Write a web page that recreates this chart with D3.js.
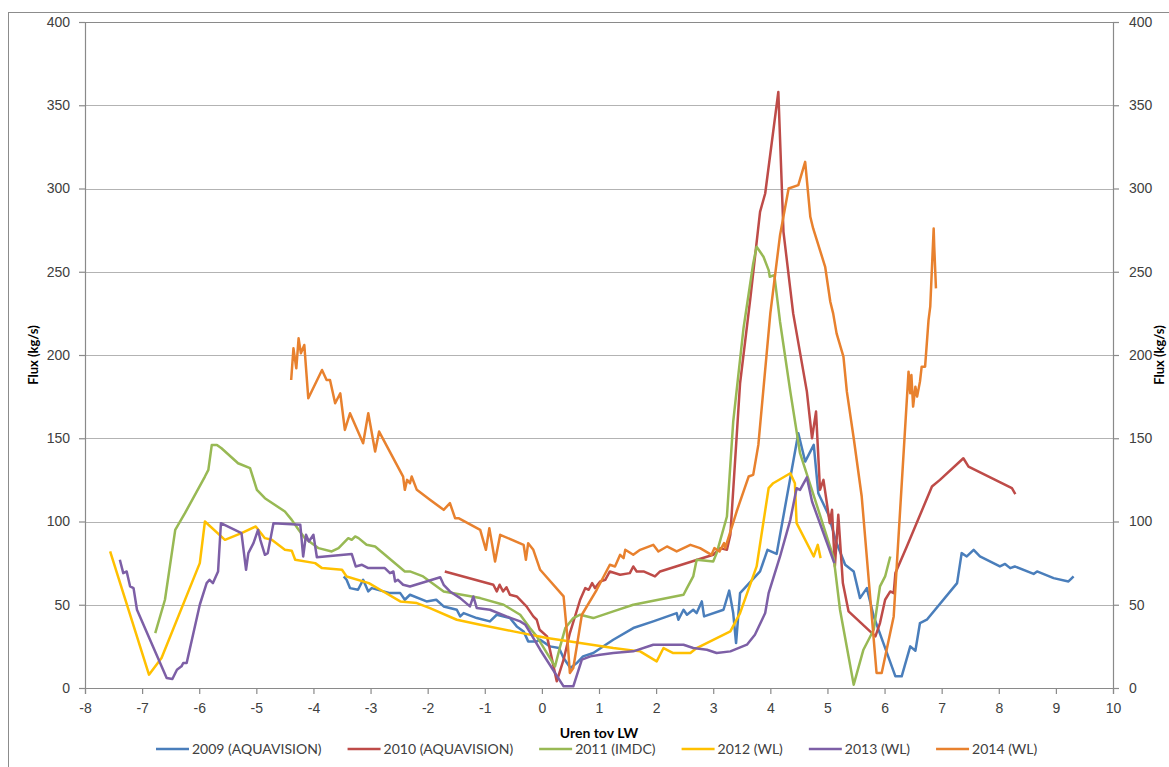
<!DOCTYPE html>
<html>
<head>
<meta charset="utf-8">
<script src="https://cdn.jsdelivr.net/npm/d3@7"></script>
<style>
  html, body { margin: 0; padding: 0; background: #fff; overflow: hidden; }
  svg { display: block; font-family: Lato, "Open Sans", sans-serif; }
</style>
</head>
<body>
<div id="chart"></div>
<script>
// Reeksen (jaar + bron) en kleuren
const seriesNames = ["2009 (AQUAVISION)", "2010 (AQUAVISION)", "2011 (IMDC)", "2012 (WL)", "2013 (WL)", "2014 (WL)"];
const seriesColors = ["#4a7ebb", "#be4b48", "#98b954", "#ffc000", "#7d5fa6", "#e8812e"];

const xTicks = d3.range(-8, 11, 1);
const yTicks = d3.range(0, 401, 50);

// [uren tov LW, flux kg/s]
const s2009 = [[-3.47,67],[-3.42,65],[-3.36,60],[-3.22,59],[-3.13,65],[-3.04,58],[-2.98,60],[-2.66,57],[-2.48,57],[-2.40,53],[-2.31,56],[-2.02,52],[-1.85,53],[-1.72,49],[-1.49,47],[-1.43,43],[-1.37,45],[-1.14,42],[-0.91,40],[-0.79,44],[-0.56,42],[-0.44,37],[-0.32,34],[-0.24,28],[-0.09,28],[-0.03,29],[0.14,25],[0.30,24],[0.38,18],[0.50,12],[0.61,15],[0.72,19],[0.90,21],[1.25,29],[1.60,36],[1.95,40],[2.36,45],[2.39,41],[2.48,47],[2.54,44],[2.65,47],[2.71,45],[2.80,52],[2.84,43],[3.18,47],[3.28,58.5],[3.35,45],[3.40,27],[3.47,57],[3.82,70],[3.95,83],[4.11,80.5],[4.49,153],[4.61,136],[4.76,146],[4.84,117],[5.02,104],[5.15,88],[5.31,74],[5.46,70],[5.57,54],[5.69,60],[5.81,43],[6.19,7],[6.30,7],[6.45,25],[6.54,22.4],[6.62,39],[6.74,41],[7.27,63],[7.35,81],[7.44,79],[7.56,83],[7.67,79],[8.02,73],[8.11,74.5],[8.20,72],[8.28,73],[8.61,68.5],[8.67,70],[8.96,66],[9.22,64],[9.28,66],[9.31,67]];

const s2010 = [[-1.70,70],[-0.85,62],[-0.79,58],[-0.74,62],[-0.68,58],[-0.62,60.5],[-0.56,56],[-0.44,55],[-0.27,49],[-0.15,43],[-0.09,41],[-0.04,35],[0.09,31],[0.26,4],[0.38,17],[0.49,33],[0.67,53],[0.76,60],[0.82,59],[0.88,63],[0.93,60],[1.02,64],[1.11,65],[1.19,70],[1.37,68],[1.54,69],[1.60,73],[1.66,70],[1.78,70],[1.98,67],[2.07,70],[3.00,80],[3.12,84],[3.24,83],[3.30,92],[3.47,183],[3.65,234],[3.82,286],[3.91,297],[4.14,358],[4.23,274],[4.40,225],[4.64,178],[4.73,150],[4.80,166],[4.87,119],[4.93,125],[4.99,111],[5.04,99],[5.08,107],[5.13,73],[5.19,104],[5.27,63],[5.37,46],[5.84,31],[5.92,39],[6.01,53],[6.10,58],[6.16,57],[6.19,69],[6.39,85],[6.83,121],[6.97,125],[7.38,138],[7.47,133],[8.23,120],[8.29,116.5]];

const s2011 = [[-6.77,33],[-6.60,53],[-6.42,95],[-6.25,105],[-5.90,127],[-5.84,131],[-5.78,146],[-5.69,146],[-5.61,144],[-5.32,135],[-5.11,132],[-4.99,119],[-4.85,114],[-4.50,106],[-4.38,101],[-4.26,95],[-4.15,90],[-3.91,84],[-3.68,82],[-3.56,84],[-3.39,90],[-3.33,89],[-3.27,91],[-3.21,90],[-3.07,86],[-2.92,85],[-2.40,70],[-2.31,70],[-2.08,67],[-1.72,58],[-1.08,54],[-0.67,50],[-0.38,44],[-0.21,36],[-0.09,31],[0.23,13],[0.32,25],[0.41,36],[0.55,42],[0.67,44],[0.90,42],[1.25,46],[1.60,50],[2.48,56],[2.54,60],[2.65,67],[2.71,77],[3.00,76],[3.06,81],[3.24,103],[3.35,160],[3.53,216],[3.70,255],[3.76,265],[3.88,259],[3.97,251],[3.99,247],[4.07,248],[4.17,220],[4.35,178],[4.52,141],[4.70,122],[5.11,78],[5.22,47],[5.46,2],[5.63,23],[5.81,35],[5.92,61],[6.01,67],[6.10,79]];

const s2012 = [[-7.56,82],[-6.88,8],[-6.66,18],[-5.99,75],[-5.90,100],[-5.55,89],[-5.26,93],[-5.01,97],[-4.85,90],[-4.73,89],[-4.50,83],[-4.38,82.5],[-4.32,77],[-3.97,75],[-3.85,72],[-3.50,71],[-3.42,67],[-3.03,63],[-2.83,59],[-2.48,52],[-2.19,51],[-1.96,48],[-1.49,41],[-1.08,38],[-0.50,34],[0.09,30],[0.67,27],[1.25,24],[1.72,22],[2.01,16],[2.13,24],[2.30,21],[2.60,21],[2.71,24],[3.30,34],[3.47,45],[3.76,73],[3.97,120],[4.05,123],[4.35,129],[4.43,123],[4.46,99],[4.76,79],[4.83,86],[4.88,78]];

const s2013 = [[-7.39,77],[-7.33,69],[-7.27,70],[-7.21,61],[-7.15,60],[-7.09,47],[-6.57,6],[-6.47,5.4],[-6.39,11],[-6.31,13],[-6.28,15],[-6.22,15],[-5.99,50],[-5.87,63],[-5.82,65],[-5.76,63],[-5.67,70],[-5.62,99],[-5.26,93],[-5.18,71],[-5.14,81],[-5.05,87],[-4.97,95],[-4.93,89],[-4.85,80],[-4.80,81],[-4.70,99],[-4.23,98],[-4.18,79],[-4.13,92],[-4.08,88],[-4.00,92],[-3.94,78.5],[-3.33,80.5],[-3.26,73],[-3.15,74],[-3.04,72],[-2.75,72],[-2.66,69],[-2.60,70],[-2.57,64],[-2.52,65],[-2.43,62],[-2.31,61],[-1.78,66.5],[-1.72,62],[-1.61,58],[-1.43,54],[-1.26,49],[-1.20,55],[-1.14,48],[-0.91,47],[-0.62,43],[-0.38,40],[-0.29,38],[-0.20,33],[-0.03,23],[0.38,1],[0.55,1],[0.70,17],[0.85,19],[1.02,20],[1.25,21],[1.60,22],[1.95,26],[2.48,26],[2.65,24],[2.89,23],[3.06,21],[3.30,22],[3.59,26],[3.73,32],[3.91,45],[3.97,57],[4.17,79],[4.35,101],[4.46,120],[4.52,119],[4.64,126.5],[4.73,112],[5.12,75]];

const s2014 = [[-4.39,185],[-4.35,204],[-4.30,192],[-4.26,210],[-4.22,201],[-4.16,206],[-4.09,174],[-3.85,191],[-3.77,185],[-3.71,185],[-3.62,171],[-3.53,177],[-3.45,155],[-3.36,165],[-3.13,147],[-3.04,165],[-2.92,142],[-2.85,154],[-2.43,127],[-2.40,119],[-2.36,125],[-2.31,123],[-2.28,127],[-2.19,119],[-1.96,113],[-1.72,107],[-1.61,111],[-1.52,102],[-1.46,102],[-1.08,95],[-0.98,83],[-0.92,96],[-0.82,76],[-0.73,92],[-0.32,86],[-0.28,77],[-0.24,87],[-0.15,83],[-0.03,71],[0.38,55],[0.44,33],[0.49,9],[0.55,12],[0.70,44],[0.96,59],[1.19,74],[1.28,73],[1.37,80],[1.43,78],[1.46,83],[1.60,80],[1.72,83],[1.95,86],[2.04,82],[2.19,85],[2.36,82],[2.60,86],[2.77,84],[2.97,80],[3.02,84],[3.11,82],[3.19,87],[3.21,84],[3.41,106],[3.62,127],[3.70,128],[3.79,146],[4.00,225],[4.17,272],[4.32,300],[4.49,302],[4.61,316],[4.70,283],[4.75,276],[4.96,253],[5.05,232],[5.10,225],[5.16,213],[5.28,199],[5.34,178],[5.46,150],[5.60,115],[5.86,9],[5.95,9],[6.16,43],[6.42,190],[6.45,177],[6.47,188],[6.50,169],[6.54,181],[6.57,175],[6.62,184],[6.65,193],[6.71,193],[6.77,221],[6.80,229],[6.86,276],[6.87,265],[6.90,240]];

const seriesData = [s2009, s2010, s2011, s2012, s2013, s2014];

function drawChart() {
    const width = 1169, height = 767;
    const margin = { top: 22, right: 56, bottom: 79, left: 85 }; // plotvlak 85..1113 x 22..688

    const svg = d3.select("#chart").append("svg")
        .attr("width", width)
        .attr("height", height);

    // buitenkader van de grafiek
    svg.append("rect")
        .attr("x", 8.5).attr("y", 12.5)
        .attr("width", 1200).attr("height", 800)
        .attr("fill", "#fff")
        .attr("stroke", "#8c8c8c");

    const x = d3.scaleLinear().domain([-8, 10]).range([margin.left, width - margin.right]);
    const y = d3.scaleLinear().domain([0, 400]).range([height - margin.bottom, margin.top]);

    // horizontale rasterlijnen
    svg.append("g")
        .selectAll("line")
        .data(yTicks.filter(d => d > 0))
        .join("line")
        .attr("x1", x(-8)).attr("x2", x(10))
        .attr("y1", d => Math.round(y(d)) + 0.5)
        .attr("y2", d => Math.round(y(d)) + 0.5)
        .attr("stroke", d => d === 400 ? "#8a8a8a" : "#b3b3b3")
        .attr("stroke-width", 1.2);

    const axisColor = "#8a8a8a";
    const labelColor = "#404040";

    // linker y-as
    const yLeft = svg.append("g")
        .attr("transform", `translate(${x(-8)},0)`)
        .call(d3.axisLeft(y).tickValues(yTicks).tickSize(6).tickPadding(9));
    // rechter y-as
    const yRight = svg.append("g")
        .attr("transform", `translate(${x(10)},0)`)
        .call(d3.axisRight(y).tickValues(yTicks).tickSize(6).tickPadding(10));
    // x-as
    const xAxis = svg.append("g")
        .attr("transform", `translate(0,${y(0)})`)
        .call(d3.axisBottom(x).tickValues(xTicks).tickSize(6).tickPadding(9).tickFormat(d3.format("d")));

    [yLeft, yRight, xAxis].forEach(g => {
        g.select(".domain").attr("stroke", axisColor).attr("stroke-width", 1.2);
        g.selectAll(".tick line").attr("stroke", axisColor).attr("stroke-width", 1.2);
        g.selectAll(".tick text")
            .attr("fill", labelColor)
            .style("font-size", "14px");
    });
    xAxis.selectAll(".tick text").text(d => d < 0 ? "-" + Math.abs(d) : d);

    // lijnen
    const line = d3.line()
        .x(d => x(d[0]))
        .y(d => y(d[1]));

    svg.append("g")
        .attr("fill", "none")
        .attr("stroke-width", 2.5)
        .attr("stroke-linejoin", "round")
        .selectAll("path")
        .data(seriesData)
        .join("path")
        .attr("stroke", (d, i) => seriesColors[i])
        .attr("d", line);

    // astitels
    svg.append("text")
        .attr("transform", `translate(38,${y(200)}) rotate(-90)`)
        .attr("text-anchor", "middle")
        .attr("font-weight", "bold")
        .style("font-size", "13px")
        .attr("fill", "#000")
        .text("Flux (kg/s)");

    svg.append("text")
        .attr("transform", `translate(1164,${y(200)}) rotate(-90)`)
        .attr("text-anchor", "middle")
        .attr("font-weight", "bold")
        .style("font-size", "13px")
        .attr("fill", "#000")
        .text("Flux (kg/s)");

    svg.append("text")
        .attr("x", 599).attr("y", 738)
        .attr("text-anchor", "middle")
        .attr("font-weight", "bold")
        .style("font-size", "14px")
        .attr("fill", "#000")
        .text("Uren tov LW");

    // legenda
    const legend = svg.append("g").attr("transform", "translate(0,749)");
    let lx = 156;
    seriesNames.forEach((name, i) => {
        legend.append("line")
            .attr("x1", lx).attr("x2", lx + 33)
            .attr("y1", 0).attr("y2", 0)
            .attr("stroke", seriesColors[i])
            .attr("stroke-width", 2.5);
        const t = legend.append("text")
            .attr("x", lx + 36).attr("y", 5)
            .style("font-size", "14px")
            .attr("fill", labelColor)
            .text(name);
        lx += 36 + t.node().getComputedTextLength() + 26;
    });
}

drawChart();
</script>
</body>
</html>
